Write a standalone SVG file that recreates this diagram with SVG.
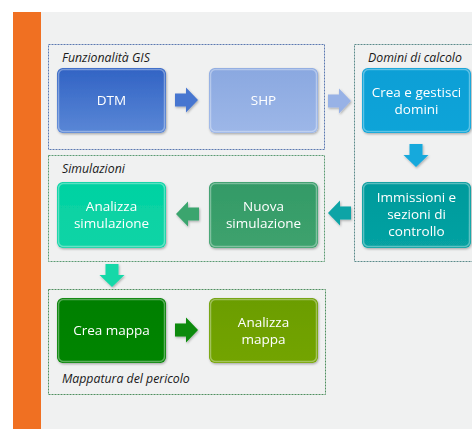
<svg xmlns="http://www.w3.org/2000/svg" width="472" height="429" viewBox="0 0 472 429">
  <defs>
    <style>
      .lbl { font-family: "Open Sans", "Liberation Sans", sans-serif; font-size: 13.5px; fill: #ffffff; text-anchor: middle; }
      .cap { font-family: "Open Sans", "Liberation Sans", sans-serif; font-size: 12.3px; font-style: italic; fill: #1a1a1a; }
      .frame { fill: none; stroke-width: 1; stroke-dasharray: 2 1; }
      .hl { fill: none; stroke: #ffffff; stroke-opacity: 0.35; stroke-width: 1.5; }
    </style>
    <linearGradient id="gDTM" x1="0" y1="0" x2="0" y2="1"><stop offset="0" stop-color="#3163c4"/><stop offset="1" stop-color="#5a87d6"/></linearGradient>
    <linearGradient id="gSHP" x1="0" y1="0" x2="0" y2="1"><stop offset="0" stop-color="#8aa8e0"/><stop offset="1" stop-color="#9db7e8"/></linearGradient>
    <linearGradient id="gDom" x1="0" y1="0" x2="0" y2="1"><stop offset="0" stop-color="#0a9fd6"/><stop offset="1" stop-color="#0aa4d8"/></linearGradient>
    <linearGradient id="gImm" x1="0" y1="0" x2="0" y2="1"><stop offset="0" stop-color="#009a9c"/><stop offset="1" stop-color="#07a2a2"/></linearGradient>
    <linearGradient id="gNuo" x1="0" y1="0" x2="0" y2="1"><stop offset="0" stop-color="#339a66"/><stop offset="1" stop-color="#3ea26e"/></linearGradient>
    <linearGradient id="gAna" x1="0" y1="0" x2="0" y2="1"><stop offset="0" stop-color="#00d2a2"/><stop offset="1" stop-color="#12d4a6"/></linearGradient>
    <linearGradient id="gCre" x1="0" y1="0" x2="0" y2="1"><stop offset="0" stop-color="#007f00"/><stop offset="1" stop-color="#058505"/></linearGradient>
    <linearGradient id="gMap" x1="0" y1="0" x2="0" y2="1"><stop offset="0" stop-color="#6b9d00"/><stop offset="1" stop-color="#73a404"/></linearGradient>
    <filter id="sh" x="-10%" y="-10%" width="130%" height="130%">
      <feDropShadow dx="0.8" dy="1.2" stdDeviation="1" flood-color="#000" flood-opacity="0.3"/>
    </filter>
    <!-- block arrow pointing right, origin at tail centre -->
    <path id="arr" d="M0,-6.5 H11 V-12.5 L23,0 L11,12.5 V6.5 H0 Z"/>
  </defs>

  <!-- page -->
  <rect x="0" y="0" width="472" height="429" fill="#ffffff"/>
  <rect x="41" y="12" width="431" height="417" fill="#f0f1f1"/>
  <rect x="13" y="12" width="28" height="417" fill="#f07022"/>

  <!-- group frames -->
  <g id="frames">
    <rect class="frame" x="48.5" y="44.5" width="276" height="105" stroke="#5b78b0"/>
    <rect class="frame" x="354.5" y="44.5" width="125" height="217" stroke="#5b8a8a"/>
    <rect class="frame" x="48.5" y="155.5" width="276" height="106" stroke="#5a9a72"/>
    <rect class="frame" x="48.5" y="289.5" width="277" height="105" stroke="#4f8f5f"/>
    <text class="cap" x="62" y="62">Funzionalità GIS</text>
    <text class="cap" x="368" y="62">Domini di calcolo</text>
    <text class="cap" x="62" y="173">Simulazioni</text>
    <text class="cap" x="62" y="383">Mappatura del pericolo</text>
  </g>

  <!-- connectors -->
  <g id="connectors" filter="url(#sh)">
    <use href="#arr" transform="translate(175,100)" fill="#4676d0"/>
    <use href="#arr" transform="translate(328,101)" fill="#98b2e6"/>
    <use href="#arr" transform="translate(416,144) rotate(90)" fill="#18a9dc"/>
    <use href="#arr" transform="translate(351,213) rotate(180)" fill="#0aa4a6"/>
    <use href="#arr" transform="translate(199,214) rotate(180)" fill="#3aa56e"/>
    <use href="#arr" transform="translate(112,264) rotate(90)" fill="#16d8a8"/>
    <use href="#arr" transform="translate(175,330)" fill="#078a07"/>
  </g>

  <!-- nodes -->
  <g id="n-dtm" filter="url(#sh)">
    <rect x="57" y="68" width="109" height="65" rx="6" fill="url(#gDTM)"/>
    <rect class="hl" x="58.5" y="69.5" width="106" height="62" rx="5"/>
    <text class="lbl" x="111.5" y="105">DTM</text>
  </g>
  <g id="n-shp" filter="url(#sh)">
    <rect x="209" y="68" width="109" height="65" rx="6" fill="url(#gSHP)"/>
    <rect class="hl" x="210.5" y="69.5" width="106" height="62" rx="5"/>
    <text class="lbl" x="263.5" y="105">SHP</text>
  </g>
  <g id="n-domini" filter="url(#sh)">
    <rect x="362" y="68" width="109" height="65" rx="6" fill="url(#gDom)"/>
    <rect class="hl" x="363.5" y="69.5" width="106" height="62" rx="5"/>
    <text class="lbl" x="416.5" y="97">Crea e gestisci</text>
    <text class="lbl" x="416.5" y="114">domini</text>
  </g>
  <g id="n-immissioni" filter="url(#sh)">
    <rect x="362" y="182" width="109" height="66" rx="6" fill="url(#gImm)"/>
    <rect class="hl" x="363.5" y="183.5" width="106" height="63" rx="5"/>
    <text class="lbl" x="416.5" y="202">Immissioni e</text>
    <text class="lbl" x="416.5" y="219">sezioni di</text>
    <text class="lbl" x="416.5" y="236">controllo</text>
  </g>
  <g id="n-nuova" filter="url(#sh)">
    <rect x="209" y="182" width="109" height="66" rx="6" fill="url(#gNuo)"/>
    <rect class="hl" x="210.5" y="183.5" width="106" height="63" rx="5"/>
    <text class="lbl" x="263.5" y="211">Nuova</text>
    <text class="lbl" x="263.5" y="228">simulazione</text>
  </g>
  <g id="n-analizza-sim" filter="url(#sh)">
    <rect x="57" y="182" width="109" height="66" rx="6" fill="url(#gAna)"/>
    <rect class="hl" x="58.5" y="183.5" width="106" height="63" rx="5"/>
    <text class="lbl" x="111.5" y="211">Analizza</text>
    <text class="lbl" x="111.5" y="228">simulazione</text>
  </g>
  <g id="n-crea-mappa" filter="url(#sh)">
    <rect x="57" y="298" width="109" height="65" rx="6" fill="url(#gCre)"/>
    <rect class="hl" x="58.5" y="299.5" width="106" height="62" rx="5"/>
    <text class="lbl" x="111.5" y="335">Crea mappa</text>
  </g>
  <g id="n-analizza-mappa" filter="url(#sh)">
    <rect x="209" y="298" width="109" height="65" rx="6" fill="url(#gMap)"/>
    <rect class="hl" x="210.5" y="299.5" width="106" height="62" rx="5"/>
    <text class="lbl" x="263.5" y="327">Analizza</text>
    <text class="lbl" x="263.5" y="344">mappa</text>
  </g>
</svg>
